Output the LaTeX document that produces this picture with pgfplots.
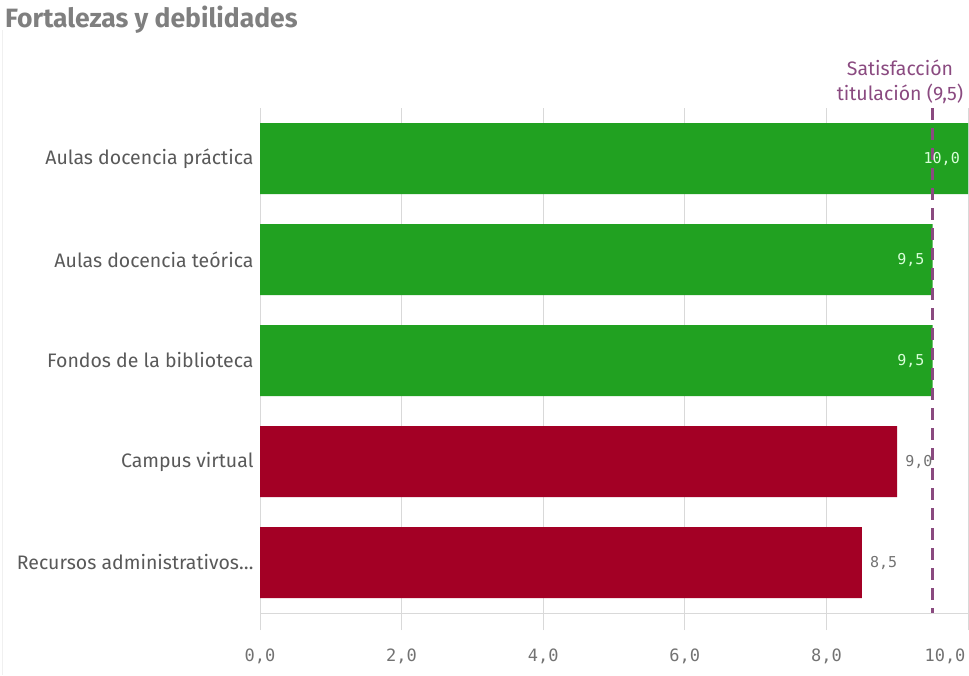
\documentclass[border=0pt]{standalone}
\usepackage{pgfplots}
\pgfplotsset{compat=1.18}
\usepackage{fontspec}
\setmainfont{Fira Sans}
\newfontfamily\monofont{DejaVu Sans Mono}
\definecolor{barGreen}{HTML}{21A121}
\definecolor{barRed}{HTML}{A30025}
\definecolor{refPurple}{HTML}{8A4A80}
\definecolor{labelGray}{HTML}{595959}
\definecolor{gridGray}{HTML}{D9D9D9}
\definecolor{titleGray}{HTML}{7F7F7F}
\begin{document}
\begin{tikzpicture}
\useasboundingbox (0,0) rectangle (969pt,675pt);
\draw[gray!12, line width=1pt] (2pt,0) -- (2pt,645pt);
\node[anchor=north west, inner sep=0pt, font=\fontsize{26.5}{30}\selectfont\bfseries, text=titleGray] at (5pt,669pt) {Fortalezas y debilidades};
\begin{axis}[
  at={(260pt,62pt)}, anchor=south west,
  scale only axis, width=708pt, height=505pt,
  bar width=71pt, bar shift=0pt,
  xmin=0, xmax=10, ymin=-0.5, ymax=4.5, y dir=reverse,
  xtick={0,2,...,8}, ytick={0,...,4},
  extra x ticks={10},
  extra x tick style={xticklabel style={anchor=north east, xshift=1pt}},
  yticklabels={Aulas docencia práctica, Aulas docencia teórica, Fondos de la biblioteca, Campus virtual, Recursos administrativos…},
  xticklabel style={font=\monofont\fontsize{17}{17}\selectfont, text=labelGray!85, yshift=-15pt},
  yticklabel style={font=\fontsize{19.5}{22}\selectfont, text=labelGray, xshift=14pt},
  /pgf/number format/.cd, fixed, fixed zerofill, precision=1, use comma, assume math mode=true,
  /pgfplots/.cd,
  axis x line*=bottom, axis y line*=left,
  axis line style={gridGray, line width=1pt},
  xmajorgrids, grid style={gridGray, line width=1pt},
  xtick style={gridGray, line width=1pt}, major tick length=17pt, tick align=outside,
  ytick style={draw=none},
  clip=false,
]
\addplot[xbar, fill=barGreen, draw=none, point meta=x,
  nodes near coords={\pgfmathprintnumber[fixed,fixed zerofill,precision=1,use comma,assume math mode=true]{\pgfplotspointmeta}},
  every node near coord/.append style={anchor=east, xshift=-8pt, font=\monofont\fontsize{15}{15}\selectfont, text=white!85!green, inner sep=0pt}]
  coordinates {(10.0,0) (9.5,1) (9.5,2)};
\addplot[xbar, fill=barRed, draw=none, point meta=x,
  nodes near coords={\pgfmathprintnumber[fixed,fixed zerofill,precision=1,use comma,assume math mode=true]{\pgfplotspointmeta}},
  every node near coord/.append style={anchor=west, xshift=8pt, font=\monofont\fontsize{15}{15}\selectfont, text=labelGray!85, inner sep=0pt}]
  coordinates {(9.0,3) (8.5,4)};
\addplot[sharp plot, refPurple, line width=3pt, dash pattern=on 12pt off 8pt, mark=none]
  coordinates {(9.5,-0.5) (9.5,4.5)};
\node[anchor=south, align=center, text=refPurple, font=\fontsize{19.5}{25}\selectfont, inner sep=0pt, yshift=4pt] at (axis cs:9.04,-0.5) {Satisfacción\\titulación (9,5)};
\end{axis}
\end{tikzpicture}
\end{document}
